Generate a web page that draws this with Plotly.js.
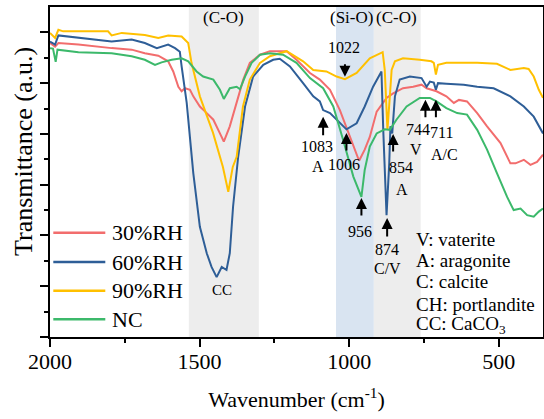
<!DOCTYPE html>
<html>
<head>
<meta charset="utf-8">
<script src="https://cdn.plot.ly/plotly-3.0.1.min.js"></script>
<style>html,body{margin:0;padding:0;background:#fff;}#chart{width:544px;height:419px;}</style>
</head>
<body>
<div id="chart"></div>
<script>
// Series names
const seriesNames = ['30%RH', '60%RH', '90%RH', 'NC'];

// 30%RH
const wn30 = [2000,1983,1972,1905,1794,1727,1683,1638,1605,1588,1571,1560,1549,1532,1521,1499,1476,1454,1432,1419,1399,1376,1354,1332,1298,1265,1209,1176,1131,1098,1064,1031,998,970,965,948,931,908,875,853,820,786,758,741,708,675,650,633,606,572,539,494,461,444,416,394,372,352];
const t30  = [5.79,5.72,5.79,5.76,5.69,5.66,5.59,5.54,5.43,5.23,4.93,4.84,4.90,4.87,4.74,4.54,4.41,4.28,4.01,3.85,4.15,4.61,5.07,5.40,5.56,5.63,5.63,5.46,5.20,5.07,4.87,4.47,3.95,3.52,3.49,3.69,3.94,4.44,4.71,4.80,4.90,4.93,4.97,4.90,4.84,4.74,4.61,4.67,4.64,4.41,4.15,3.82,3.42,3.42,3.49,3.39,3.45,3.59];

// 60%RH
const wn60 = [2000,1983,1972,1905,1794,1727,1683,1643,1605,1582,1566,1560,1543,1521,1499,1476,1460,1443,1426,1410,1399,1388,1371,1348,1321,1287,1254,1232,1198,1154,1120,1098,1087,1064,1031,1009,975,948,920,892,886,875,866,862,856,847,831,797,758,741,730,717,710,703,675,617,572,517,461,416,383,352];
const t60  = [5.82,5.76,5.94,5.89,5.82,5.86,5.79,5.69,5.76,5.69,5.62,5.33,4.61,3.23,2.17,1.65,1.38,1.18,1.38,1.32,1.65,2.57,3.55,4.54,5.13,5.36,5.46,5.48,5.33,5.00,4.74,4.64,4.47,4.41,4.21,4.09,4.21,4.54,4.93,5.23,4.08,2.40,3.42,4.15,4.01,4.74,5.07,5.13,5.10,4.93,5.03,5.01,4.87,5.00,4.99,4.97,4.93,4.90,4.74,4.54,4.34,4.01];

// 90%RH
const wn90 = [2000,1983,1972,1956,1806,1794,1760,1683,1638,1605,1560,1538,1527,1499,1455,1422,1404,1389,1376,1355,1332,1298,1265,1231,1209,1154,1120,1076,1042,1014,975,931,888,881,872,864,858,847,820,764,725,717,710,703,675,630,572,506,461,416,400,383,366,352];
const t90  = [5.99,5.89,6.05,6.02,6.02,5.94,5.99,5.95,5.89,5.94,5.92,5.79,5.40,4.74,4.02,3.35,2.86,3.35,3.55,4.54,5.07,5.40,5.53,5.59,5.63,5.43,5.26,5.23,5.13,5.08,5.20,5.49,5.61,5.26,4.08,4.74,5.26,5.43,5.49,5.46,5.43,5.40,5.17,5.36,5.40,5.40,5.40,5.38,5.26,5.30,5.28,5.13,4.87,4.71];

// NC
const wnNC = [2000,1990,1981,1975,1905,1794,1727,1683,1649,1627,1593,1560,1538,1510,1488,1454,1432,1419,1399,1376,1365,1348,1326,1298,1265,1221,1176,1131,1087,1053,1020,986,959,948,931,908,881,864,842,808,764,730,708,675,639,606,572,539,506,472,450,427,405,383,366,352];
const tNC  = [5.69,5.68,5.42,5.66,5.61,5.59,5.53,5.46,5.36,5.41,5.46,5.49,5.43,5.23,5.13,5.07,4.87,4.69,4.90,4.93,4.88,5.13,5.40,5.56,5.59,5.56,5.40,5.10,4.90,4.54,3.88,3.16,2.76,3.29,3.75,4.01,4.09,4.08,4.28,4.54,4.71,4.71,4.64,4.51,4.41,4.38,4.08,3.69,3.23,2.76,2.50,2.53,2.40,2.37,2.47,2.53];

// Axis tick values
const xTicks = [2000, 1500, 1000, 500];
const yTicks = [0, 1, 2, 3, 4, 5, 6];

const colors = ['#F26D6D', '#2E5E97', '#FFC000', '#3CB96B'];
const serif = 'Liberation Serif, Times New Roman, serif';

const xs = [wn30, wn60, wn90, wnNC];
const ys = [t30, t60, t90, tNC];
const traces = seriesNames.map((n, i) => ({
  type: 'scatter', mode: 'lines', name: n, x: xs[i], y: ys[i],
  line: {color: colors[i], width: 2}, showlegend: false
}));

function px2x(px){ return (px - 50) / 493; }
function py2y(py){ return (337 - py) / 330; }

const shapes = [
  {type:'rect', xref:'x', yref:'paper', x0:1536, x1:1302, y0:0, y1:1, fillcolor:'#EDEDED', line:{width:0}, layer:'below'},
  {type:'rect', xref:'x', yref:'paper', x0:1044, x1:917.5, y0:0, y1:1, fillcolor:'#D9E4F1', line:{width:0}, layer:'below'},
  {type:'rect', xref:'x', yref:'paper', x0:917.5, x1:761, y0:0, y1:1, fillcolor:'#EDEDED', line:{width:0}, layer:'below'}
];
const legendRows = [232.7, 262, 290.7, 319.3];
const annotations = [];
seriesNames.forEach((n, i) => {
  shapes.push({type:'line', xref:'paper', yref:'paper', x0:px2x(53.3), x1:px2x(105.3), y0:py2y(legendRows[i]), y1:py2y(legendRows[i]), line:{color:colors[i], width:2.5}});
  annotations.push({xref:'paper', yref:'paper', x:px2x(110), y:py2y(legendRows[i]), xanchor:'left', yanchor:'middle', text:n, showarrow:false, font:{family:serif, size:22, color:'#000'}});
});

function arrow(x, y, ay){
  return {xref:'x', yref:'y', x:x, y:y, ax:0, ay:ay, text:'', showarrow:true, arrowhead:2, arrowsize:1.1, arrowwidth:2, arrowcolor:'#000', standoff:0, startstandoff:0};
}
function label(x, y, t, size){
  return {xref:'x', yref:'y', x:x, y:y, text:t, showarrow:false, xanchor:'center', yanchor:'middle', font:{family:serif, size:size || 16, color:'#000'}};
}
annotations.push(
  arrow(1014, 5.125, -14), label(1018, 5.70, '1022'),
  arrow(1087, 4.336, 20), label(1109, 3.744, '1083'), label(1104, 3.35, 'A'),
  arrow(1009, 4.020, 19), label(1018, 3.39, '1006'),
  arrow(959, 2.737, 19), label(964, 2.086, '956'),
  arrow(873, 2.343, 20), label(873, 1.73, '874'), label(871, 1.356, 'C/V'),
  arrow(853, 4.00, 19), label(828, 3.33, '854'), label(825, 2.915, 'A'),
  arrow(745, 4.671, 19), label(770, 4.079, '744'), label(775, 3.685, 'V'),
  arrow(710, 4.671, 19), label(690, 4.02, '711'), label(680, 3.586, 'A/C'),
  label(1425, 0.92, 'CC', 15),
  label(1419, 6.29, '(C-O)', 17), label(991, 6.29, '(Si-O)', 17), label(841, 6.29, '(C-O)', 17)
);
const keyLines = ['V: vaterite', 'A: aragonite', 'C: calcite', 'CH: portlandite', 'CC: CaCO<sub>3</sub>'];
const keyY = [239.3, 260, 281.7, 304, 325];
keyLines.forEach((t, i) => {
  annotations.push({xref:'paper', yref:'paper', x:px2x(414), y:py2y(keyY[i]), xanchor:'left', yanchor:'middle', text:t, showarrow:false, font:{family:serif, size:19, color:'#000'}});
});
annotations.push({xref:'paper', yref:'paper', x:px2x(23), y:py2y(152), xanchor:'center', yanchor:'middle', textangle:-90, text:'Transmittance (a.u.)', showarrow:false, font:{family:serif, size:26, color:'#000'}});

const layout = {
  width: 544, height: 419,
  margin: {l:50, r:1, t:7, b:82, pad:0},
  paper_bgcolor: '#fff', plot_bgcolor: '#fff',
  font: {family: serif, size: 22, color: '#000'},
  xaxis: {
    range: [2000, 352], autorange: false,
    tickmode: 'array', tickvals: xTicks, ticktext: xTicks.map(String),
    ticks: 'outside', ticklen: 8, tickwidth: 2, tickcolor: '#000',
    ticklabelstandoff: -4,
    minor: {tickvals: [1750, 1250, 750], ticks: 'outside', ticklen: 4, tickwidth: 2, tickcolor: '#000'},
    showline: true, linecolor: '#000', linewidth: 2, mirror: true,
    showgrid: false, zeroline: false,
    tickfont: {family: serif, size: 22, color: '#000'},
    title: {text: 'Wavenumber (cm<sup>-1</sup>)', font: {family: serif, size: 22, color: '#000'}, standoff: 18}
  },
  yaxis: {
    range: [0, 6.5], autorange: false,
    tickmode: 'array', tickvals: yTicks, showticklabels: false,
    ticks: 'outside', ticklen: 8, tickwidth: 2, tickcolor: '#000',
    minor: {tickvals: [0.5,1.5,2.5,3.5,4.5,5.5], ticks: 'outside', ticklen: 4, tickwidth: 2, tickcolor: '#000'},
    showline: true, linecolor: '#000', linewidth: 2, mirror: true,
    showgrid: false, zeroline: false
  },
  shapes: shapes,
  annotations: annotations,
  showlegend: false
};
Plotly.newPlot('chart', traces, layout, {staticPlot: true, displayModeBar: false});
</script>
</body>
</html>
